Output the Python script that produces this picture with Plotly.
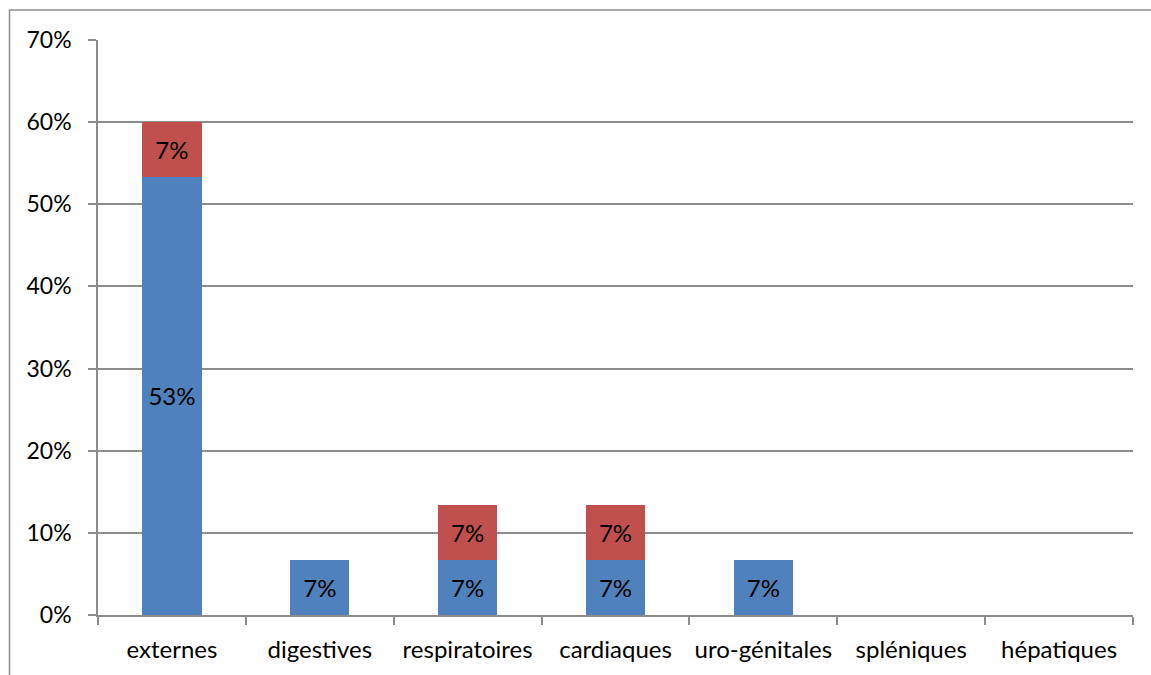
import plotly.graph_objects as go

categories = ["externes", "digestives", "respiratoires", "cardiaques",
              "uro-génitales", "spléniques", "hépatiques"]
serie_bleue = [53.33, 6.67, 6.67, 6.67, 6.67, 0, 0]
serie_rouge = [6.67, 0, 6.67, 6.67, 0, 0, 0]
y_ticks = [0, 10, 20, 30, 40, 50, 60, 70]

FONT = "Lato"
GRID = "#8c8c8c"


def labels(values):
    return [f"{round(v)}%" if v > 0 else "" for v in values]


fig = go.Figure()
for vals, color in ((serie_bleue, "#4F81BD"), (serie_rouge, "#C0504D")):
    fig.add_trace(go.Bar(
        x=categories, y=vals, marker=dict(color=color, line=dict(width=0)),
        text=labels(vals), textposition="inside", insidetextanchor="middle",
        textangle=0, constraintext="none",
        textfont=dict(family=FONT, size=24, color="black"),
        hoverinfo="skip",
    ))

fig.update_layout(
    barmode="stack", bargap=0.6, showlegend=False,
    width=1151, height=675,
    margin=dict(l=98, r=18, t=40, b=60),
    paper_bgcolor="white", plot_bgcolor="white",
    font=dict(family=FONT, size=24, color="black"),
    uniformtext=dict(mode=False),
)
fig.update_xaxes(
    showline=True, linecolor=GRID, linewidth=1.5,
    ticks="outside", tickson="boundaries", ticklen=8, tickcolor=GRID, tickwidth=1.5,
    showgrid=False, tickfont=dict(family=FONT, size=24), ticklabelstandoff=12,
)
fig.update_yaxes(
    range=[0, 70], tickvals=y_ticks, ticktext=[f"{v}%" for v in y_ticks],
    showline=True, linecolor=GRID, linewidth=1.5,
    ticks="outside", ticklen=8, tickcolor=GRID, tickwidth=1.5,
    showgrid=True, gridcolor=GRID, gridwidth=1.5, zeroline=False,
    tickfont=dict(family=FONT, size=23), ticklabelstandoff=12,
)

# outer frame of the chart area
fig.add_shape(type="rect", xref="paper", yref="paper",
              x0=(9.5 - 98) / 1035, x1=1.2, y0=-0.3, y1=(614.5 - 10) / 574.5,
              line=dict(color=GRID, width=1.5), layer="below")

fig.write_html("out.html")
